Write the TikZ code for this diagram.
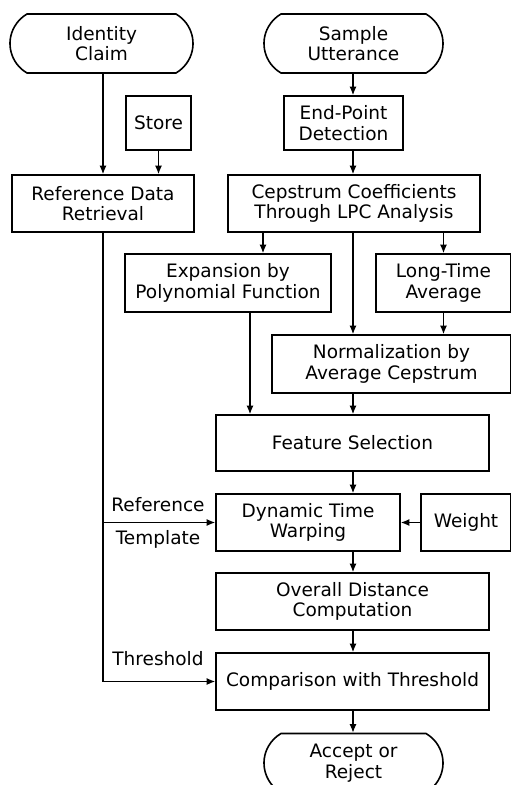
\documentclass[tikz,border=0pt]{standalone}
\usepackage{fontspec}
\setmainfont{DejaVu Sans}
\usetikzlibrary{shapes.misc,arrows.meta}
\newcommand{\blockfont}{\fontsize{18.5}{20.5}\selectfont}
\tikzset{
    block/.style={draw, line width=1.6pt, align=center, inner sep=2pt, font=\blockfont},
    terminal/.style={block, rounded rectangle, rounded rectangle arc length=120},
    arr/.style={-{Latex[length=8.5pt,width=7pt]}, line width=1.3pt},
    tag/.style={font=\blockfont, inner sep=0pt}
}
\begin{document}
\begin{tikzpicture}[x=1pt, y=-1pt]
    \useasboundingbox (0,0) rectangle (511,785);

    % Start and end terminals
    \node[terminal, minimum width=187, minimum height=59] (claim) at (101.5,43.5) {Identity\\Claim};
    \node[terminal, minimum width=183, minimum height=59] (sample) at (353.5,43.5) {Sample\\Utterance};
    \node[terminal, minimum width=183, minimum height=59] (decide) at (353.5,763) {Accept or\\Reject};

    % Processing blocks
    \node[block, minimum width=65, minimum height=54] (store) at (158.5,123) {Store};
    \node[block, minimum width=119, minimum height=54] (endpt) at (343.5,123) {End-Point\\Detection};
    \node[block, minimum width=182, minimum height=57] (refdata) at (103,203.5) {Reference Data\\Retrieval};
    \node[block, minimum width=252, minimum height=57] (cepstrum) at (354,203.5) {Cepstrum Coefficients\\Through LPC Analysis};
    \node[block, minimum width=206, minimum height=58] (expand) at (228,283) {Expansion by\\Polynomial Function};
    \node[block, minimum width=135, minimum height=58] (longtime) at (443.5,283) {Long-Time\\Average};
    \node[block, minimum width=239, minimum height=58] (normal) at (391.5,364) {Normalization by\\Average Cepstrum};
    \node[block, minimum width=273, minimum height=56] (feature) at (352.5,443) {Feature Selection};
    \node[block, minimum width=184, minimum height=57] (dtw) at (308,522.5) {Dynamic Time\\Warping};
    \node[block, minimum width=90, minimum height=57] (weight) at (466,522.5) {Weight};
    \node[block, minimum width=273, minimum height=57] (overall) at (352.5,601.5) {Overall Distance\\Computation};
    \node[block, minimum width=273, minimum height=57] (compare) at (352.5,681.5) {Comparison with Threshold};

    % Side labels
    \node[tag] (reflbl) at (158,505) {Reference};
    \node[tag] (tpllbl) at (158,539) {Template};
    \node[tag] (thrlbl) at (158,659) {Threshold};

    % Columns for the vertical arrows
    \coordinate (spine) at (353,0);
    \coordinate (polycol) at (263,0);
    \coordinate (featcol) at (250,0);

    % Reference side
    \draw[arr] (claim.south -| refdata) -- (refdata.north);
    \draw[arr] (store.south) -- (store.south |- refdata.north);
    \draw[arr] (refdata.south) |- (compare.west);
    \draw[arr] (refdata.south |- dtw.west) -- (dtw.west);

    % Analysis chain
    \draw[arr] (sample.south -| spine) -- (endpt.north -| spine);
    \draw[arr] (endpt.south -| spine) -- (cepstrum.north -| spine);
    \draw[arr] (cepstrum.south -| polycol) -- (expand.north -| polycol);
    \draw[arr] (cepstrum.south -| spine) -- (normal.north -| spine);
    \draw[arr] (cepstrum.south -| longtime) -- (longtime.north);
    \draw[arr] (longtime.south) -- (normal.north -| longtime);
    \draw[arr] (expand.south -| featcol) -- (feature.north -| featcol);
    \draw[arr] (normal.south -| spine) -- (feature.north -| spine);
    \draw[arr] (feature.south -| spine) -- (dtw.north -| spine);
    \draw[arr] (weight.west) -- (dtw.east);
    \draw[arr] (dtw.south -| spine) -- (overall.north -| spine);
    \draw[arr] (overall.south -| spine) -- (compare.north -| spine);
    \draw[arr] (compare.south -| spine) -- (decide.north -| spine);
\end{tikzpicture}
\end{document}
